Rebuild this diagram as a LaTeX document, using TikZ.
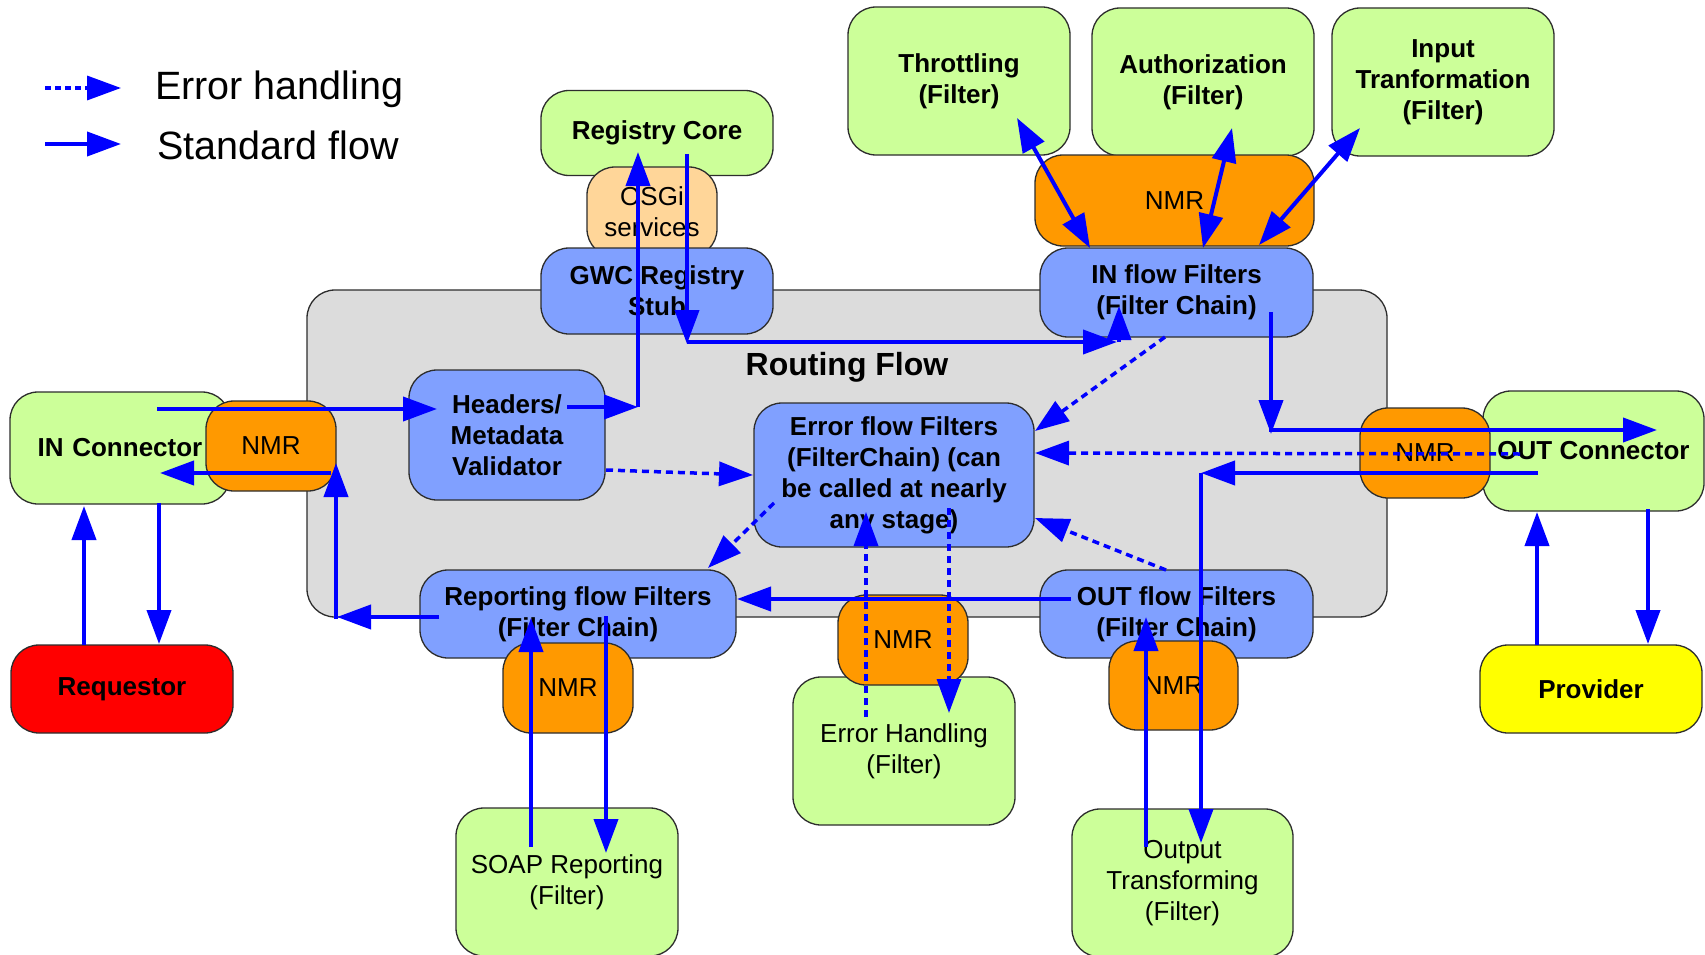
\documentclass[tikz,border=0pt]{standalone}
\usepackage{fontspec}
\setmainfont{Liberation Sans}
\usetikzlibrary{arrows.meta}
\definecolor{cgreen}{RGB}{204,255,153}
\definecolor{cblue}{RGB}{128,160,255}
\definecolor{corange}{RGB}{255,153,0}
\definecolor{clight}{RGB}{255,214,153}
\definecolor{cgray}{RGB}{220,220,220}
\definecolor{cedge}{RGB}{45,45,45}
\definecolor{carrow}{RGB}{0,0,255}
\definecolor{cred}{RGB}{255,0,0}
\definecolor{cyellow}{RGB}{255,255,0}
\tikzset{
  box/.style={draw=cedge, line width=1.3pt, rounded corners=28pt, align=center, inner sep=0pt,
              font=\fontsize{26}{31}\selectfont\bfseries},
  thinbox/.style={box, font=\fontsize{26}{31}\selectfont},
  greenbox/.style={box, fill=cgreen},
  bluebox/.style={box, fill=cblue},
  nmrbox/.style={thinbox, fill=corange},
  stdarrow/.style={draw=carrow, line width=4pt, -{Triangle[length=34pt,width=24pt]}, carrow},
  dblarrow/.style={draw=carrow, line width=4pt, {Triangle[length=34pt,width=24pt]}-{Triangle[length=34pt,width=24pt]}, carrow},
  errarrow/.style={draw=carrow, line width=3.5pt, dash pattern=on 7pt off 5pt, -{Triangle[length=34pt,width=24pt]}, carrow},
  legendtext/.style={font=\fontsize{39.5}{45}\selectfont, inner sep=0pt, anchor=base west}
}
\begin{document}
\begin{tikzpicture}[x=1pt,y=-1pt]
\clip (0,0) rectangle (1705,955);
\fill[white] (0,0) rectangle (1705,955);

% routing flow area
\node[draw=cedge, line width=1.3pt, fill=cgray, rounded corners=28pt, minimum width=1080pt, minimum height=327pt, inner sep=0pt] (routing) at (847,453.5) {};
\node[font=\fontsize{32}{38}\selectfont\bfseries, inner sep=0pt, anchor=base] (routingtitle) at (847,375) {Routing Flow};

% registry
\node[greenbox, minimum width=232pt, minimum height=85pt] (regcore) at (657,133) {Registry Core};
\node[thinbox, fill=clight, minimum width=130pt, minimum height=90pt] (osgi) at (652,212) {OSGi\\services};
\node[bluebox, minimum width=232pt, minimum height=86pt] (gwc) at (657,291) {GWC Registry\\Stub};

% top filters
\node[greenbox, minimum width=222pt, minimum height=148pt] (throttle) at (959,81) {Throttling\\(Filter)};
\node[greenbox, minimum width=222pt, minimum height=148pt] (auth) at (1203,82) {Authorization\\(Filter)};
\node[greenbox, minimum width=222pt, minimum height=148pt] (inputtr) at (1443,82) {Input\\Tranformation\\(Filter)};
\node[nmrbox, minimum width=279pt, minimum height=91pt] (nmrtop) at (1174.5,200.5) {NMR};
\node[bluebox, minimum width=273pt, minimum height=89pt] (inflow) at (1176.5,292.5) {IN flow Filters\\(Filter Chain)};

% left side
\node[greenbox, minimum width=220pt, minimum height=112pt, text width=220pt] (inconn) at (120,448) {IN Connector};
\node[nmrbox, minimum width=130pt, minimum height=90pt] (nmrl) at (271,446) {NMR};
\node[bluebox, minimum width=196pt, minimum height=130pt] (headers) at (507,435) {Headers/\\Metadata\\Validator};
\node[box, fill=cred, minimum width=222pt, minimum height=88pt] (requestor) at (122,689) {Requestor};

% center
\node[bluebox, minimum width=280pt, minimum height=144pt] (errflow) at (894,475) {Error flow Filters\\(FilterChain) (can\\be called at nearly\\any stage)};
\node[bluebox, minimum width=316pt, minimum height=88pt] (reporting) at (578,614) {Reporting flow Filters\\(Filter Chain)};
\node[bluebox, minimum width=273pt, minimum height=88pt] (outflow) at (1176.5,614) {OUT flow Filters\\(Filter Chain)};

% right side
\node[greenbox, minimum width=221pt, minimum height=120pt] (outconn) at (1593.5,451) {OUT Connector};
\node[nmrbox, minimum width=130pt, minimum height=90pt] (nmrr) at (1425,453) {NMR};
\node[box, fill=cyellow, minimum width=222pt, minimum height=88pt] (provider) at (1591,689) {Provider};

% bottom filters
\node[thinbox, fill=cgreen, minimum width=222pt, minimum height=148pt] (errhand) at (904,751) {Error Handling\\(Filter)};
\node[nmrbox, minimum width=130pt, minimum height=90pt] (nmrm) at (903,640) {NMR};
\node[nmrbox, minimum width=130pt, minimum height=90pt] (nmrbl) at (568,688) {NMR};
\node[nmrbox, minimum width=129pt, minimum height=89pt] (nmrbr) at (1173.5,685.5) {NMR};
\node[thinbox, fill=cgreen, minimum width=222pt, minimum height=148pt] (soap) at (567,882) {SOAP Reporting\\(Filter)};
\node[thinbox, fill=cgreen, minimum width=221pt, minimum height=148pt] (outtr) at (1182.5,883) {Output\\Transforming\\(Filter)};

% legend
\coordinate (legAa) at (45,88);  \coordinate (legAb) at (121,88);
\coordinate (legBa) at (45,144); \coordinate (legBb) at (121,144);
\draw[errarrow, dash pattern=on 6pt off 4pt] (legAa) -- (legAb);
\draw[stdarrow] (legBa) -- (legBb);
\node[legendtext] (legA) at (155,100) {Error handling};
\node[legendtext] (legB) at (157,160) {Standard flow};

% connector end points
\coordinate (hdrout) at (567,407);
\coordinate (regcorner) at (638,407);
\coordinate (regin) at (638,152);
\coordinate (regout) at (687,154);
\coordinate (gwcdown) at (687,344);
\coordinate (gwcturn) at (687,342);
\coordinate (infin) at (1117,342);
\coordinate (infbase) at (1119,342);
\coordinate (infup) at (1119,306);
\coordinate (thA) at (1017,118); \coordinate (thB) at (1090,248);
\coordinate (auA) at (1232,128); \coordinate (auB) at (1203,248);
\coordinate (itA) at (1360,128); \coordinate (itB) at (1259,245);
\coordinate (infout) at (1271,312); \coordinate (infdown) at (1271,434);
\coordinate (infturn) at (1269,430); \coordinate (outconnin) at (1657,430);
\coordinate (outconnout) at (1538,473); \coordinate (outcorner) at (1201,473);
\coordinate (outtrin) at (1201,843);
\coordinate (outtrout) at (1146,847); \coordinate (outflowin) at (1146,617);
\coordinate (outflowout) at (1071,599); \coordinate (reportin) at (737,599);
\coordinate (soapout) at (531,847); \coordinate (reportin2) at (531,618);
\coordinate (reportout) at (606,616); \coordinate (soapin) at (606,853);
\coordinate (reportleft) at (439,617); \coordinate (leftcorner) at (337,617);
\coordinate (leftcorner2) at (336,619); \coordinate (nmrlin) at (336,463);
\coordinate (nmrlout) at (331,473); \coordinate (inconnin) at (160,473);
\coordinate (inconnout) at (157,409); \coordinate (headersin) at (437,409);
\coordinate (inconndown) at (159,503); \coordinate (requestorin) at (159,644);
\coordinate (requestorout) at (84,645); \coordinate (inconnup) at (84,506);
\coordinate (providerout) at (1537,645); \coordinate (outconnup) at (1537,512);
\coordinate (outconndown) at (1648,509); \coordinate (providerin) at (1648,644);
% error connectors
\coordinate (hdrerr) at (606,470); \coordinate (errinA) at (753,475);
\coordinate (inferr) at (1165,337); \coordinate (errinB) at (1035,431);
\coordinate (outconnerr) at (1520,454); \coordinate (errinC) at (1035,453);
\coordinate (outflowerr) at (1166,570); \coordinate (errinD) at (1035,518);
\coordinate (errrep) at (774,503); \coordinate (reperr) at (708,568);
\coordinate (ehout) at (866,717); \coordinate (errinE) at (866,512);
\coordinate (errout) at (949,508); \coordinate (ehin) at (949,713);

% standard flow
\draw[stdarrow] (hdrout) -- (regcorner);
\draw[stdarrow] (regcorner) -- (regin);
\draw[stdarrow] (regout) -- (gwcdown);
\draw[stdarrow] (gwcturn) -- (infin);
\draw[stdarrow] (infbase) -- (infup);
\draw[dblarrow] (thA) -- (thB);
\draw[dblarrow] (auA) -- (auB);
\draw[dblarrow] (itA) -- (itB);
\draw[stdarrow] (infout) -- (infdown);
\draw[stdarrow] (infturn) -- (outconnin);
\draw[stdarrow] (outconnout) -- (outcorner);
\draw[stdarrow] (outcorner) -- (outtrin);
\draw[stdarrow] (outtrout) -- (outflowin);
\draw[stdarrow] (outflowout) -- (reportin);
\draw[stdarrow] (soapout) -- (reportin2);
\draw[stdarrow] (reportout) -- (soapin);
\draw[stdarrow] (reportleft) -- (leftcorner);
\draw[stdarrow] (leftcorner2) -- (nmrlin);
\draw[stdarrow] (nmrlout) -- (inconnin);
\draw[stdarrow] (inconnout) -- (headersin);
\draw[stdarrow] (inconndown) -- (requestorin);
\draw[stdarrow] (requestorout) -- (inconnup);
\draw[stdarrow] (providerout) -- (outconnup);
\draw[stdarrow] (outconndown) -- (providerin);

% error handling flow
\draw[errarrow] (hdrerr) -- (errinA);
\draw[errarrow] (inferr) -- (errinB);
\draw[errarrow] (outconnerr) -- (errinC);
\draw[errarrow] (outflowerr) -- (errinD);
\draw[errarrow] (errrep) -- (reperr);
\draw[errarrow] (ehout) -- (errinE);
\draw[errarrow] (errout) -- (ehin);
\end{tikzpicture}
\end{document}
